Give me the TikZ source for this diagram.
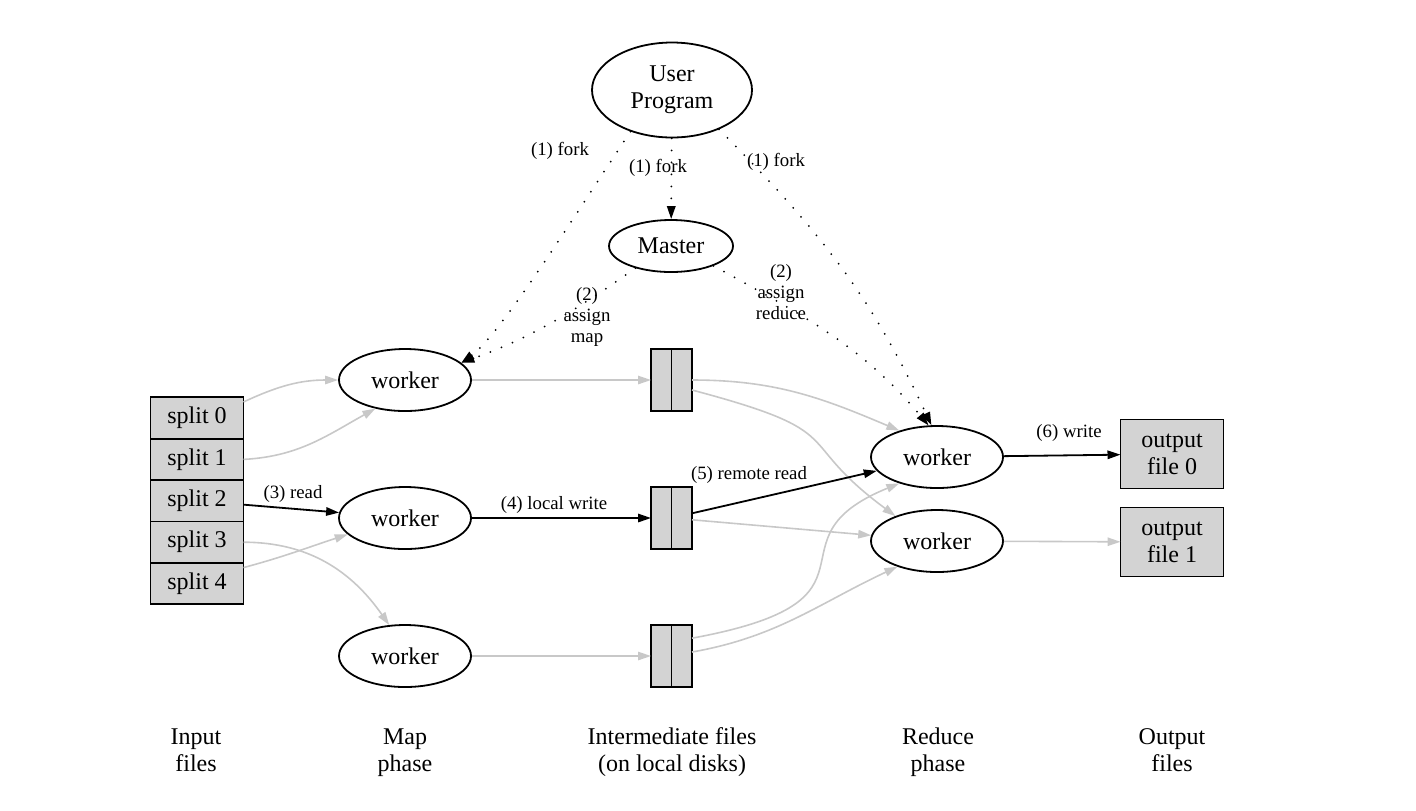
\documentclass[tikz,border=0pt]{standalone}
\usepackage{fontspec}
\setmainfont{Liberation Serif}
\usetikzlibrary{shapes.geometric}
\usetikzlibrary{arrows.meta}
\definecolor{boxgray}{HTML}{D3D3D3}
\definecolor{linegray}{HTML}{C8C8C8}
\newcommand{\nodefont}{\fontsize{12}{13.5}\selectfont}
\newcommand{\edgefont}{\fontsize{9.4}{10.3}\selectfont}
\tikzstyle{proc}=[draw, ellipse, line width=0.9pt, inner sep=0, align=center, font=\nodefont]
\tikzstyle{worker}=[proc, minimum width=66pt, minimum height=31pt]
\tikzstyle{filebox}=[draw, fill=boxgray, line width=0.9pt, inner sep=0, outer sep=0, align=center, font=\nodefont]
\tikzstyle{splitbox}=[filebox, minimum width=46.5pt, minimum height=20.7pt]
\tikzstyle{diskbox}=[filebox, minimum width=20.5pt, minimum height=31pt]
\tikzstyle{outbox}=[filebox, minimum width=51.5pt, minimum height=34.5pt]
\tikzstyle{edgelabel}=[font=\edgefont, align=center, inner sep=0]
\tikzstyle{phase}=[font=\nodefont, align=center, inner sep=0, text depth=0pt]
\tikzstyle{headed}=[-{Triangle[length=6.5pt, width=4.2pt]}]
\tikzstyle{dataflow}=[headed, line width=0.9pt]
\tikzstyle{idleflow}=[headed, line width=0.8pt, linegray]
\tikzstyle{control}=[headed, line width=1pt, line cap=round, dash pattern=on 0pt off 6pt]

\begin{document}
\begin{tikzpicture}[x=0.5pt, y=-0.5pt]
    \useasboundingbox (0,0) rectangle (1416,810);
    % processes
    \node[proc, minimum width=80pt, minimum height=47.5pt] (user) at (672,90) {User\\Program};
    \node[proc, minimum width=62pt, minimum height=26pt] (master) at (671,246) {Master};
    \node[worker] (w1) at (405,380) {worker};
    \node[worker] (w2) at (405,518) {worker};
    \node[worker] (w3) at (405,656) {worker};
    \node[worker] (r1) at (937,457) {worker};
    \node[worker] (r2) at (937,541) {worker};
    % files
    \foreach \i in {0,...,4}
        \node[splitbox] (split\i) at (197,{418+41.4*\i}) {split \i};
    \foreach \i/\y in {1/380, 2/518, 3/656} {
        \node[diskbox] (f\i) at (671.5,\y) {};
        \draw[line width=0.9pt] (f\i.north) -- (f\i.south);
    }
    \node[outbox] (o0) at (1172,454) {output\\file 0};
    \node[outbox] (o1) at (1172,542) {output\\file 1};
    % phases
    \node[phase] (inphase) at (196,750) {Input\\files};
    \node[phase] (mapphase) at (405,750) {Map\\phase};
    \node[phase] (midphase) at (672,750) {Intermediate files\\(on local disks)};
    \node[phase] (redphase) at (938,750) {Reduce\\phase};
    \node[phase] (outphase) at (1172,750) {Output\\files};

    % control
    \draw[control] (user) -- (master);
    \draw[control] (user.225) .. controls (575,215) and (500,335) .. (w1.17);
    \draw[control] (user.-40) to[out=-45, in=115] (r1.100);
    \draw[control] (master.212) to[out=215, in=20] (w1.17);
    \draw[control] (master.-25) to[out=-29, in=130] (r1.105);
    \node[edgelabel] (forkmap) at (560,151) {(1) fork};
    \node[edgelabel] (forkmaster) at (658,168) {(1) fork};
    \node[edgelabel] (forkreduce) at (776,162) {(1) fork};
    \node[edgelabel] (assignmap) at (587,317) {(2)\\assign\\map};
    \node[edgelabel] (assignreduce) at (781,292) {(2)\\assign\\reduce};

    % data
    \draw[idleflow] (split0.19) to[out=25, in=180] (w1.west);
    \draw[idleflow] (split1.east) to[out=3, in=209] (w1.224);
    \draw[dataflow] (split2) -- (w2);
    \draw[idleflow] (split3.east) to[out=0, in=125] (w3.117);
    \draw[idleflow] (split4.19) to[out=15, in=198] (w2.196);
    \draw[idleflow] (w1) -- (f1);
    \draw[dataflow] (w2) -- (f2);
    \draw[idleflow] (w3) -- (f3);
    \draw[idleflow] (f1.east) to[out=0, in=157] (r1.145);
    \draw[idleflow] (f1.-26) .. controls (854,433) and (790,438) .. (r2.149);
    \draw[dataflow] (f2) -- (r1);
    \draw[idleflow] (f2) -- (r2);
    \draw[idleflow] (f3.41) .. controls (900,600) and (760,540) .. (r1.215);
    \draw[idleflow] (f3.11) to[out=10, in=205] (r2.213);
    \draw[dataflow] (r1) -- (o0);
    \draw[idleflow] (r2) -- (o1);
    \node[edgelabel] (readlbl) at (293,494) {(3) read};
    \node[edgelabel] (localwrite) at (554,505) {(4) local write};
    \node[edgelabel] (remoteread) at (749,475) {(5) remote read};
    \node[edgelabel] (writelbl) at (1069,433) {(6) write};
\end{tikzpicture}
\end{document}
